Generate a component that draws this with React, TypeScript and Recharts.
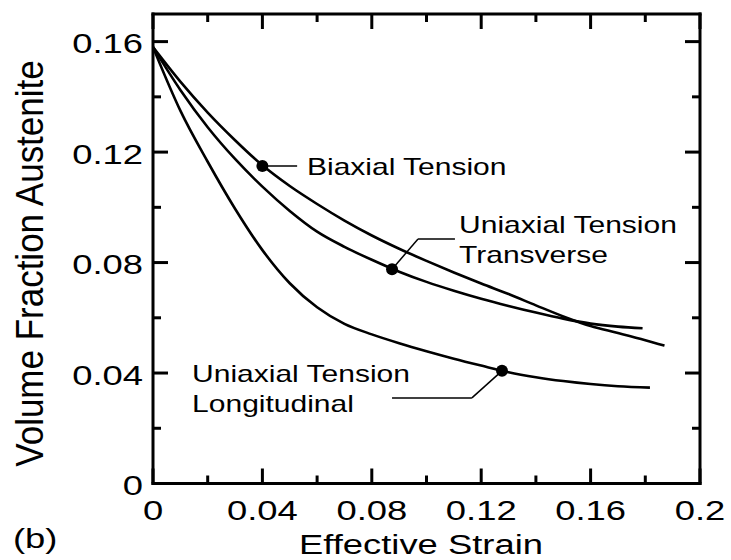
import React from 'react';
import { LineChart, Line, XAxis, YAxis, ReferenceDot, ReferenceLine } from 'recharts';

const FONT = '"Liberation Sans", Arial, Helvetica, sans-serif';

// ---- axis ticks ----
const xTicks = [0, 0.02, 0.04, 0.06, 0.08, 0.1, 0.12, 0.14, 0.16, 0.18, 0.2];
const xTickLabels = ['0', '', '0.04', '', '0.08', '', '0.12', '', '0.16', '', '0.2'];
const yTicks = [0, 0.02, 0.04, 0.06, 0.08, 0.1, 0.12, 0.14, 0.16];
const yTickLabels = ['0', '', '0.04', '', '0.08', '', '0.12', '', '0.16'];

// ---- series ----
const biaxialStrain = [0, 0.01, 0.02, 0.03, 0.04, 0.05, 0.06, 0.07, 0.08, 0.09, 0.1, 0.11, 0.12, 0.13, 0.14, 0.15, 0.16, 0.17, 0.18, 0.187];
const biaxialFraction = [0.158, 0.1455, 0.1343, 0.1243, 0.1152, 0.1077, 0.1012, 0.0952, 0.0898, 0.085, 0.0806, 0.0764, 0.0724, 0.0686, 0.0645, 0.0605, 0.057, 0.0545, 0.0519, 0.0499];

const transverseStrain = [0, 0.01, 0.02, 0.03, 0.04, 0.05, 0.06, 0.07, 0.08, 0.09, 0.1, 0.11, 0.12, 0.13, 0.14, 0.15, 0.16, 0.17, 0.179];
const transverseFraction = [0.158, 0.1425, 0.129, 0.1175, 0.1075, 0.0987, 0.0912, 0.0857, 0.081, 0.0767, 0.073, 0.0698, 0.0669, 0.0643, 0.0619, 0.0597, 0.0579, 0.0568, 0.0562];

const longitudinalStrain = [0, 0.01, 0.02, 0.03, 0.04, 0.05, 0.06, 0.07, 0.08, 0.09, 0.1, 0.11, 0.12, 0.13, 0.14, 0.15, 0.16, 0.17, 0.1817];
const longitudinalFraction = [0.158, 0.135, 0.1165, 0.0995, 0.0845, 0.0725, 0.0638, 0.0578, 0.054, 0.0508, 0.0479, 0.0452, 0.0427, 0.0403, 0.0385, 0.0371, 0.036, 0.0352, 0.0347];

// ---- annotation marker points and labels ----
const markerStrain = [0.04, 0.0874, 0.1276];
const markerFraction = [0.115, 0.0776, 0.0408];
const annotationLabels = [['Biaxial Tension'], ['Uniaxial Tension', 'Transverse'], ['Uniaxial Tension', 'Longitudinal']];

const annotationAnchors = [
  { x: 0.0563, y: 0.1117 },
  { x: 0.1119, y: 0.0907 },
  { x: 0.0143, y: 0.0367 },
];
const leaderSegments = [
  [{ x: 0.04, y: 0.115 }, { x: 0.0527, y: 0.115 }],
  [{ x: 0.0874, y: 0.0776 }, { x: 0.0969, y: 0.0885 }],
  [{ x: 0.0969, y: 0.0885 }, { x: 0.1104, y: 0.0885 }],
  [{ x: 0.1276, y: 0.0408 }, { x: 0.1166, y: 0.031 }],
  [{ x: 0.1166, y: 0.031 }, { x: 0.0874, y: 0.031 }],
];

const toData = (xs: number[], ys: number[]) => xs.map((x, i) => ({ x, y: ys[i] }));
const biaxialData = toData(biaxialStrain, biaxialFraction);
const transverseData = toData(transverseStrain, transverseFraction);
const longitudinalData = toData(longitudinalStrain, longitudinalFraction);

const labelFor = (ticks: number[], labels: string[], v: number) => {
  const i = ticks.findIndex((t) => Math.abs(t - v) < 1e-9);
  return i >= 0 ? labels[i] : '';
};

const MAJOR = 15;
const MINOR = 8;
const TW = 3;

const BottomTick = (props: any) => {
  const { x, y, payload } = props;
  const lab = labelFor(xTicks, xTickLabels, payload.value);
  const len = lab ? MAJOR : MINOR;
  return (
    <g>
      <line x1={x} x2={x} y1={y} y2={y - len} stroke="#000" strokeWidth={TW} />
      {lab ? (
        <text
          transform={`translate(${x},${y + 36.5}) scale(1.3,1)`}
          textAnchor="middle"
          fontSize={28}
          fontFamily={FONT}
          fill="#000"
        >
          {lab}
        </text>
      ) : null}
    </g>
  );
};

const TopTick = (props: any) => {
  const { x, y, payload } = props;
  const lab = labelFor(xTicks, xTickLabels, payload.value);
  const len = lab ? MAJOR : MINOR;
  return <line x1={x} x2={x} y1={y} y2={y + len} stroke="#000" strokeWidth={TW} />;
};

const LeftTick = (props: any) => {
  const { x, y, payload } = props;
  const lab = labelFor(yTicks, yTickLabels, payload.value);
  const len = lab ? MAJOR : MINOR;
  return (
    <g>
      <line x1={x} x2={x + len} y1={y} y2={y} stroke="#000" strokeWidth={TW} />
      {lab ? (
        <text
          transform={`translate(${x - 10},${y + 11.5}) scale(1.3,1)`}
          textAnchor="end"
          fontSize={28}
          fontFamily={FONT}
          fill="#000"
        >
          {lab}
        </text>
      ) : null}
    </g>
  );
};

const RightTick = (props: any) => {
  const { x, y, payload } = props;
  const lab = labelFor(yTicks, yTickLabels, payload.value);
  const len = lab ? MAJOR : MINOR;
  return <line x1={x} x2={x - len} y1={y} y2={y} stroke="#000" strokeWidth={TW} />;
};

const XTitle = () => (
  <g>
    <text transform="translate(421,554) scale(1.3,1)" textAnchor="middle" fontSize={28} fontFamily={FONT} fill="#000">
      Effective Strain
    </text>
    <text transform="translate(13,548) scale(1.3,1)" textAnchor="start" fontSize={28} fontFamily={FONT} fill="#000">
      (b)
    </text>
  </g>
);

const YTitle = () => (
  <text
    transform="translate(43,263.5) rotate(-90) scale(1,1.12)"
    textAnchor="middle"
    fontSize={35}
    fontFamily={FONT}
    fill="#000"
  >
    Volume Fraction Austenite
  </text>
);

const axisLineStyle = { stroke: '#000', strokeWidth: 3, strokeLinecap: 'square' as const };

export default function App() {
  return (
    <div style={{ position: 'absolute', left: 0, top: 0, width: 731, height: 560, background: '#fff' }}>
      <LineChart width={731} height={560} margin={{ top: 0, right: 0, bottom: 0, left: 0 }}>
        <XAxis
          xAxisId={0}
          dataKey="x"
          type="number"
          domain={[0, 0.2]}
          ticks={xTicks}
          interval={0}
          height={76.5}
          orientation="bottom"
          axisLine={axisLineStyle}
          tickLine={false}
          tickSize={0}
          tickMargin={0}
          tick={<BottomTick />}
          allowDataOverflow
          label={{ content: () => <XTitle /> } as any}
        />
        <XAxis
          xAxisId="top"
          dataKey="x"
          type="number"
          domain={[0, 0.2]}
          ticks={xTicks}
          interval={0}
          height={14}
          orientation="top"
          axisLine={axisLineStyle}
          tickLine={false}
          tickSize={0}
          tickMargin={0}
          tick={<TopTick />}
          allowDataOverflow
        />
        <YAxis
          yAxisId={0}
          type="number"
          domain={[0, 0.17]}
          ticks={yTicks}
          interval={0}
          width={153}
          orientation="left"
          axisLine={axisLineStyle}
          tickLine={false}
          tickSize={0}
          tickMargin={0}
          tick={<LeftTick />}
          allowDataOverflow
          label={{ content: () => <YTitle /> } as any}
        />
        <YAxis
          yAxisId="right"
          type="number"
          domain={[0, 0.17]}
          ticks={yTicks}
          interval={0}
          width={31}
          orientation="right"
          axisLine={axisLineStyle}
          tickLine={false}
          tickSize={0}
          tickMargin={0}
          tick={<RightTick />}
          allowDataOverflow
        />
        <Line data={biaxialData} dataKey="y" type="monotone" stroke="#000" strokeWidth={2.6} dot={false} isAnimationActive={false} />
        <Line data={transverseData} dataKey="y" type="monotone" stroke="#000" strokeWidth={2.6} dot={false} isAnimationActive={false} />
        <Line data={longitudinalData} dataKey="y" type="monotone" stroke="#000" strokeWidth={2.6} dot={false} isAnimationActive={false} />
        {leaderSegments.map((seg, i) => (
          <ReferenceLine key={`seg${i}`} segment={seg} stroke="#000" strokeWidth={1.5} />
        ))}
        {markerStrain.map((mx, i) => (
          <ReferenceDot key={`m${i}`} x={mx} y={markerFraction[i]} r={6} fill="#000" stroke="none" />
        ))}
        {annotationAnchors.map((a, i) => (
          <ReferenceDot
            key={`a${i}`}
            x={a.x}
            y={a.y}
            r={1}
            shape={(p: any) => (
              <g transform={`translate(${p.cx},${p.cy}) scale(1.25,1)`}>
                <text fontSize={24} fontFamily={FONT} fill="#000">
                  {annotationLabels[i].map((line, j) => (
                    <tspan key={j} x={0} dy={j === 0 ? 0 : 29.5}>
                      {line}
                    </tspan>
                  ))}
                </text>
              </g>
            )}
          />
        ))}
      </LineChart>
    </div>
  );
}
